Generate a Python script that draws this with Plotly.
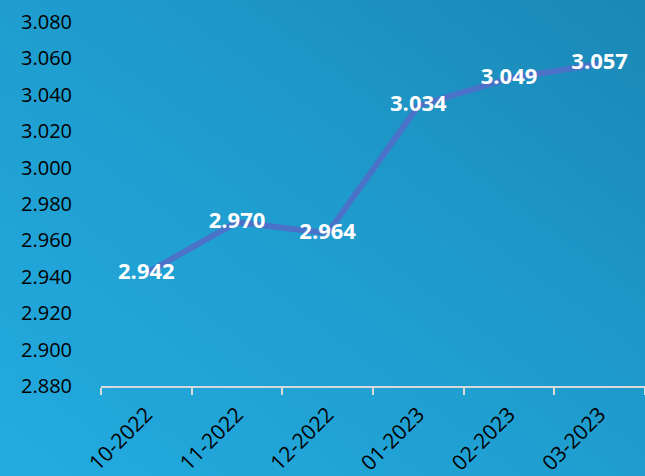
import base64
import plotly.graph_objects as go

categories = ["10-2022", "11-2022", "12-2022", "01-2023", "02-2023", "03-2023"]
values = [2.942, 2.970, 2.964, 3.034, 3.049, 3.057]
y_range = [2.88, 3.08]

svg = (
    '<svg xmlns="http://www.w3.org/2000/svg" width="645" height="476" preserveAspectRatio="none">'
    '<defs><linearGradient id="g" x1="0" y1="1" x2="1" y2="0">'
    '<stop offset="0" stop-color="#23abe0"/>'
    '<stop offset="0.5" stop-color="#1f9dcf"/>'
    '<stop offset="1" stop-color="#1a88b6"/>'
    '</linearGradient></defs>'
    '<rect width="645" height="476" fill="url(#g)"/></svg>'
)
bg = "data:image/svg+xml;base64," + base64.b64encode(svg.encode()).decode()

fig = go.Figure()
fig.add_trace(go.Scatter(
    x=categories, y=values,
    mode="lines+text",
    line=dict(color="#4a72c8", width=6),
    text=[f"{v:.3f}" for v in values],
    textposition="middle center",
    textfont=dict(family="Open Sans", size=22, color="white", weight="bold"),
    cliponaxis=False,
    hoverinfo="skip",
))

fig.update_layout(
    width=645, height=476,
    margin=dict(l=101, r=0, t=22, b=90),
    paper_bgcolor="#1f9acb",
    plot_bgcolor="rgba(0,0,0,0)",
    showlegend=False,
    images=[dict(source=bg, xref="paper", yref="paper", x=-101/544, y=1+22/364,
                 sizex=645/544, sizey=476/364, xanchor="left", yanchor="top",
                 sizing="stretch", layer="below")],
    xaxis=dict(
        type="category",
        range=[-0.5, len(categories) - 0.5],
        tickson="boundaries",
        ticks="outside", ticklen=7, tickcolor="#d9d9d9", tickwidth=2,
        showline=True, linecolor="#d9d9d9", linewidth=2,
        showgrid=False,
        tickangle=-45,
        ticklabelstandoff=6,
        tickfont=dict(family="Open Sans", size=21, color="black"),
        fixedrange=True,
    ),
    yaxis=dict(
        range=y_range,
        dtick=0.02, tick0=2.88,
        tickformat=".3f",
        showgrid=False, zeroline=False, showline=False,
        ticks="",
        ticklabelstandoff=28,
        tickfont=dict(family="Open Sans", size=20, color="black"),
        fixedrange=True,
    ),
)

fig.write_html(
    "out.html",
    config={"displayModeBar": False},
    post_script="document.body.style.margin='0';document.body.style.overflow='hidden';",
)
